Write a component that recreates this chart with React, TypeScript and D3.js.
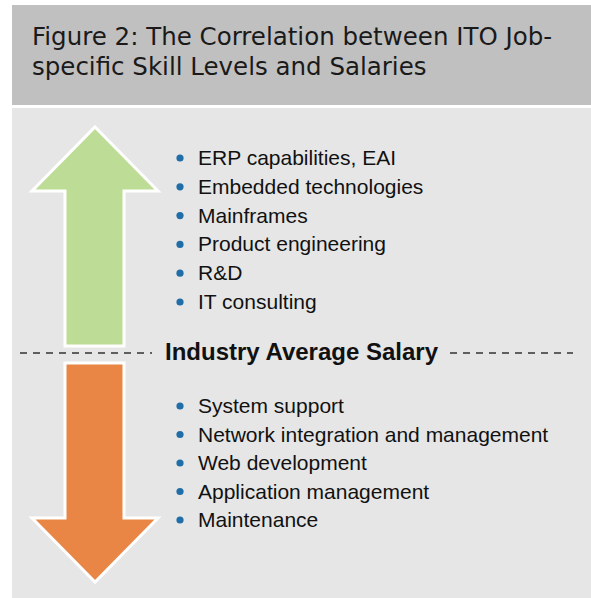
import React from "react";
import * as d3 from "d3";

const titleLines = [
  "Figure 2: The Correlation between ITO Job-",
  "specific Skill Levels and Salaries",
];
const aboveAverage = [
  "ERP capabilities, EAI",
  "Embedded technologies",
  "Mainframes",
  "Product engineering",
  "R&D",
  "IT consulting",
];
const belowAverage = [
  "System support",
  "Network integration and management",
  "Web development",
  "Application management",
  "Maintenance",
];
const dividerLabel = "Industry Average Salary";

const W = 591;
const H = 598;

export default function App() {
  const upY = d3
    .scalePoint<string>()
    .domain(aboveAverage)
    .range([165, 309]);
  const downY = d3
    .scalePoint<string>()
    .domain(belowAverage)
    .range([413, 527]);

  const up = d3.path();
  up.moveTo(95, 127);
  up.lineTo(158, 191);
  up.lineTo(124, 191);
  up.lineTo(124, 346);
  up.lineTo(65, 346);
  up.lineTo(65, 191);
  up.lineTo(32, 191);
  up.closePath();

  const down = d3.path();
  down.moveTo(65, 363);
  down.lineTo(124, 363);
  down.lineTo(124, 518);
  down.lineTo(158, 518);
  down.lineTo(95, 582);
  down.lineTo(32, 518);
  down.lineTo(65, 518);
  down.closePath();

  const textFont = "'Liberation Sans', Arial, sans-serif";

  return (
    <svg
      width={W}
      height={H}
      style={{ position: "absolute", left: 0, top: 0, display: "block" }}
    >
      <rect x={0} y={0} width={W} height={H} fill="#ffffff" />
      <rect x={12} y={5} width={W - 12} height={100} fill="#c0c0c0" />
      <rect x={12} y={108} width={W - 12} height={H - 108} fill="#e6e6e6" />
      {titleLines.map((t, i) => (
        <text
          key={t}
          x={32}
          y={45 + i * 30}
          fontFamily="'DejaVu Sans', Verdana, sans-serif"
          fontSize={24.5}
          fill="#1a1a1a"
        >
          {t}
        </text>
      ))}
      <path
        d={up.toString()}
        fill="#bddc95"
        stroke="#ffffff"
        strokeWidth={3}
        strokeLinejoin="miter"
      />
      <path
        d={down.toString()}
        fill="#e98645"
        stroke="#ffffff"
        strokeWidth={3}
        strokeLinejoin="miter"
      />
      {aboveAverage.map((t) => (
        <g key={t}>
          <circle cx={180} cy={(upY(t) as number) - 7} r={3.6} fill="#1f6ea8" />
          <text x={198} y={upY(t)} fontFamily={textFont} fontSize={21} fill="#111">
            {t}
          </text>
        </g>
      ))}
      {belowAverage.map((t) => (
        <g key={t}>
          <circle cx={180} cy={(downY(t) as number) - 7} r={3.6} fill="#1f6ea8" />
          <text x={198} y={downY(t)} fontFamily={textFont} fontSize={21} fill="#111">
            {t}
          </text>
        </g>
      ))}
      <line
        x1={20}
        x2={152}
        y1={353}
        y2={353}
        stroke="#333"
        strokeWidth={1.5}
        strokeDasharray="7 6"
      />
      <line
        x1={450}
        x2={573}
        y1={353}
        y2={353}
        stroke="#333"
        strokeWidth={1.5}
        strokeDasharray="7 6"
      />
      <text
        x={165}
        y={360}
        fontFamily={textFont}
        fontWeight="bold"
        fontSize={24}
        fill="#111"
      >
        {dividerLabel}
      </text>
    </svg>
  );
}
